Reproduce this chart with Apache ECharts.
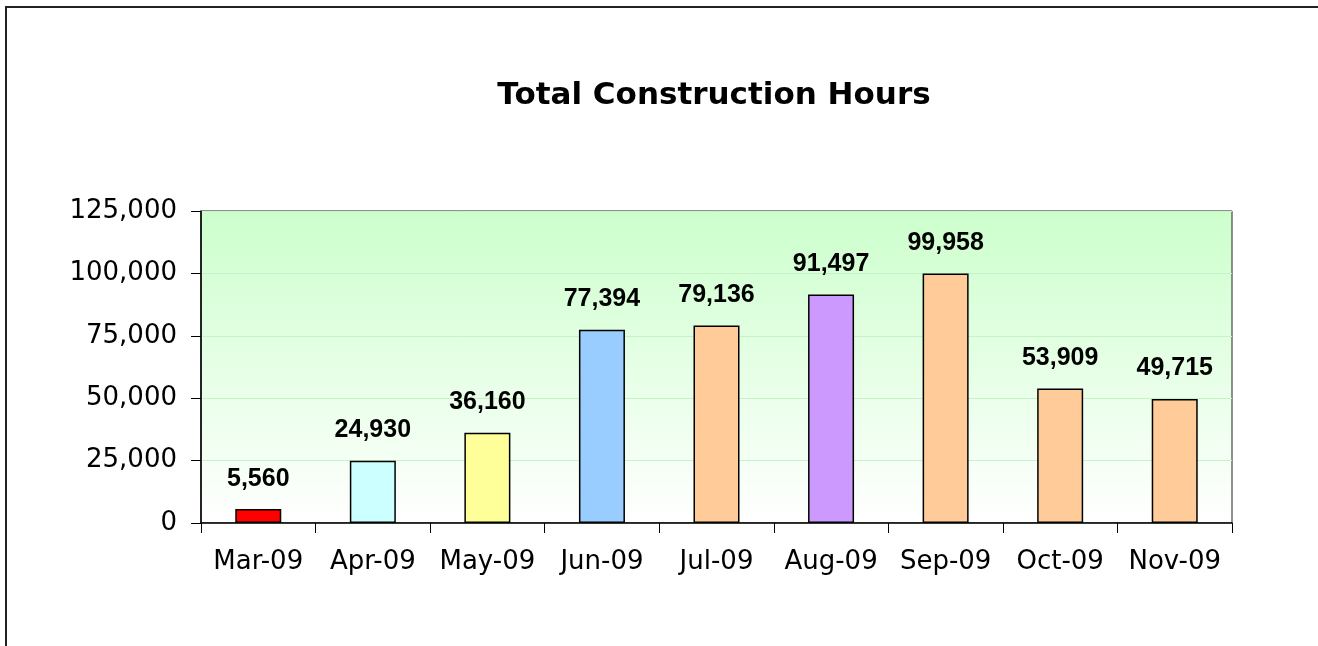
<!DOCTYPE html>
<html>
<head>
<meta charset="utf-8">
<script src="https://cdn.jsdelivr.net/npm/echarts@6/dist/echarts.min.js"></script>
<style>
  html, body { margin: 0; padding: 0; background: #fff; overflow: hidden; }
  #frame { position: absolute; left: 5px; top: 6px; width: 1400px; height: 700px;
           border-left: 2px solid #222; border-top: 2px solid #222; box-sizing: border-box; }
  #chart { position: absolute; left: 0; top: 0; width: 1318px; height: 646px; }
</style>
</head>
<body>
<div id="frame"></div>
<div id="chart"></div>
<script>
// 数据
const months = ["Mar-09", "Apr-09", "May-09", "Jun-09", "Jul-09", "Aug-09", "Sep-09", "Oct-09", "Nov-09"];
const hours = [5560, 24930, 36160, 77394, 79136, 91497, 99958, 53909, 49715];
const barColors = ["#ff0000", "#ccffff", "#ffff99", "#99ccff", "#ffcc99", "#cc99ff", "#ffcc99", "#ffcc99", "#ffcc99"];
const yTicks = [0, 25000, 50000, 75000, 100000, 125000];

const chart = echarts.init(document.getElementById("chart"));

const fmt = v => String(v).replace(/\B(?=(\d{3})+(?!\d))/g, ",");

const option = {
  animation: false,
  title: {
    text: "Total Construction Hours",
    left: 709,
    top: 75,
    textAlign: "center",
    textStyle: { fontFamily: "DejaVu Sans", fontSize: 31, fontWeight: "bold", color: "#000" }
  },
  grid: {
    left: 201,
    top: 211,
    right: 86,
    bottom: 123,
    show: true,
    borderColor: "#222",
    borderWidth: 1,
    backgroundColor: new echarts.graphic.LinearGradient(0, 0, 0, 1, [
      { offset: 0, color: "#ccffcc" },
      { offset: 1, color: "#ffffff" }
    ])
  },
  xAxis: {
    type: "category",
    data: months,
    axisLine: { lineStyle: { color: "#000", width: 1.5 } },
    axisTick: { show: true, length: 10, lineStyle: { color: "#000" } },
    axisLabel: { fontFamily: "DejaVu Sans", fontSize: 26, color: "#000", margin: 26, interval: 0 }
  },
  yAxis: {
    type: "value",
    min: yTicks[0],
    max: yTicks[yTicks.length - 1],
    interval: 25000,
    axisLine: { show: true, lineStyle: { color: "#000", width: 1.5 } },
    axisTick: { show: true, length: 10, lineStyle: { color: "#000" } },
    splitLine: { lineStyle: { color: "#c6f2c6", width: 1 } },
    axisLabel: {
      fontFamily: "DejaVu Sans",
      fontSize: 26,
      color: "#000",
      margin: 24,
      formatter: v => fmt(v)
    }
  },
  series: [
    {
      type: "bar",
      data: hours.map((v, i) => ({ value: v, itemStyle: { color: barColors[i] } })),
      barWidth: 46,
      itemStyle: { borderColor: "#000", borderWidth: 1.5 },
      label: {
        show: true,
        position: "top",
        distance: 18,
        fontFamily: "Liberation Sans, Arial",
        fontSize: 25,
        fontWeight: "bold",
        color: "#000",
        formatter: p => fmt(p.value)
      }
    }
  ]
};

chart.setOption(option);
</script>
</body>
</html>
